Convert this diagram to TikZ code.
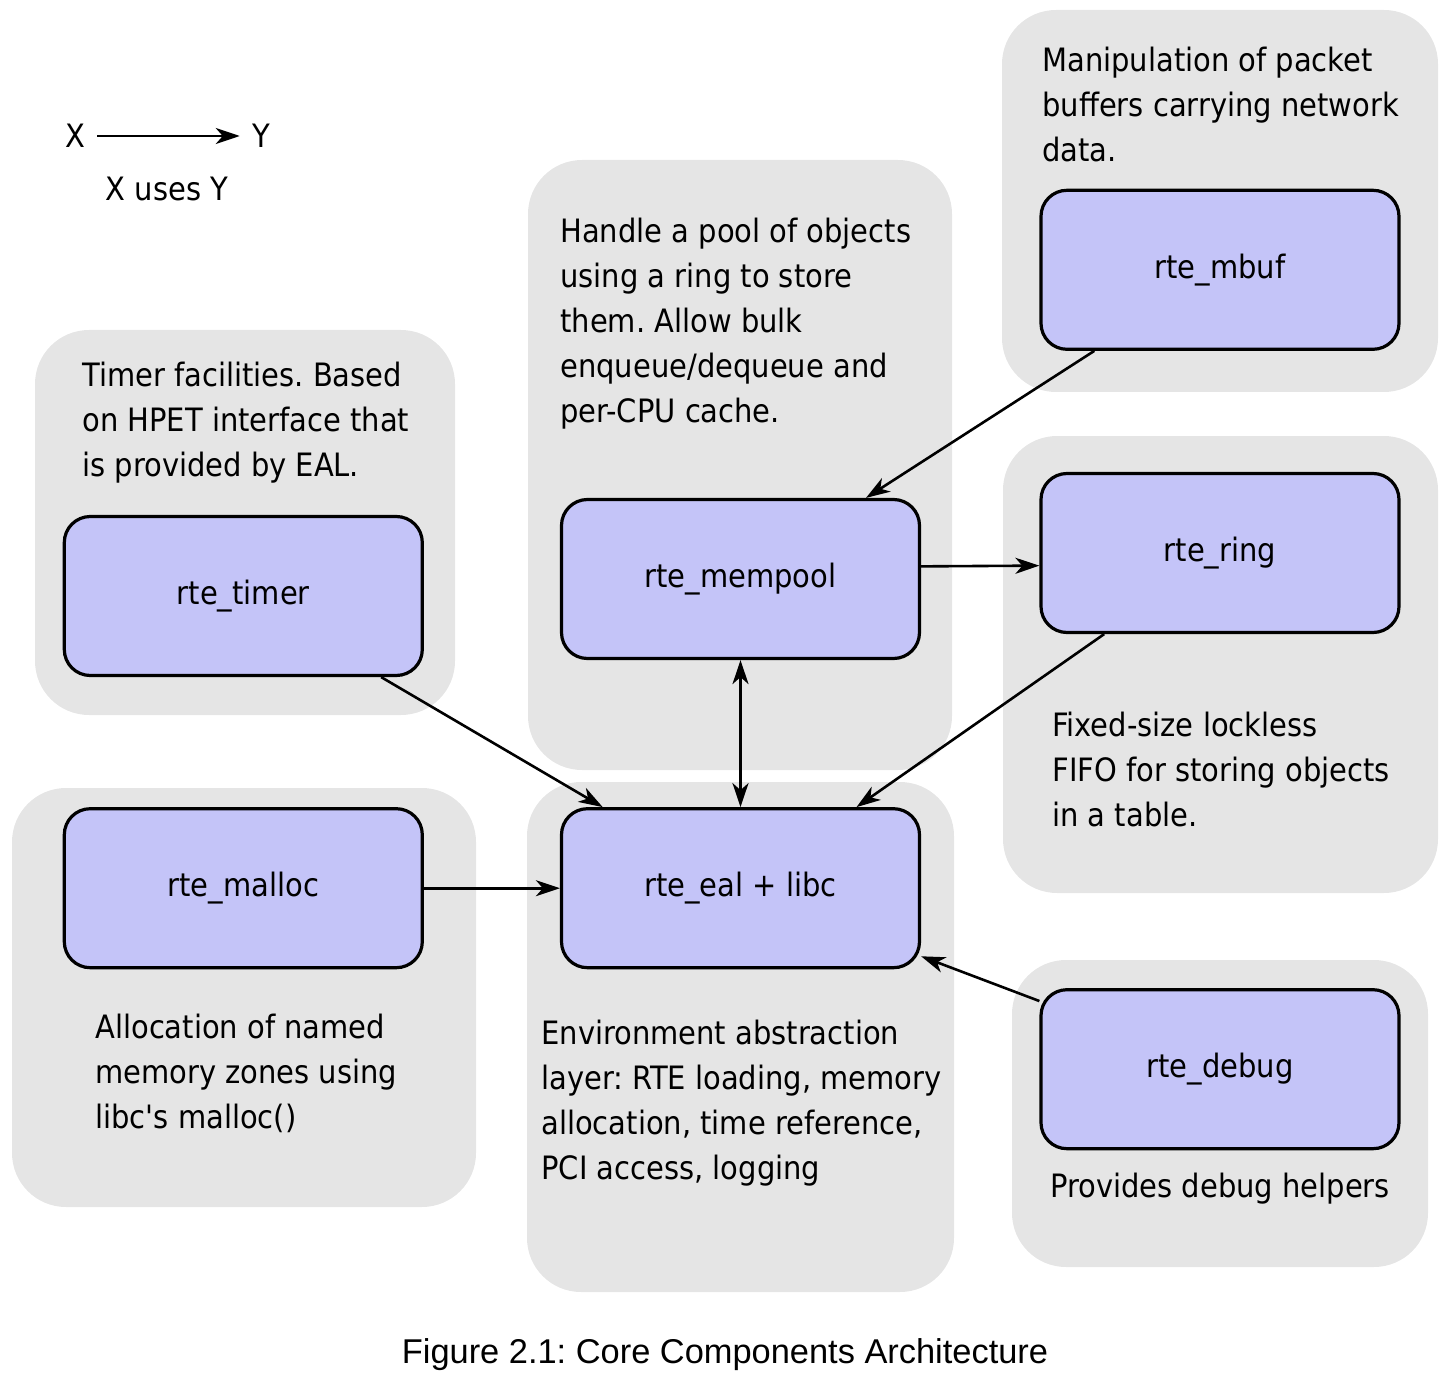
\documentclass[tikz,border=0pt]{standalone}
\usepackage{fontspec}
\setmainfont{DejaVu Sans Condensed}[Ligatures=TeXOff]
\newfontfamily\capfont{Liberation Sans}
\usetikzlibrary{arrows.meta,positioning}
\definecolor{Panel}{HTML}{E5E5E5}
\definecolor{Lilac}{HTML}{C4C4F8}
\tikzset{
 >={Stealth[length=12pt,width=8pt,inset=3.5pt]},
 panel/.style={fill=Panel,rounded corners=27pt},
 comp/.style={draw=black,fill=Lilac,line width=1.6pt,rounded corners=13pt,minimum width=179pt,minimum height=79.5pt},
 note/.style={anchor=north west,align=left,inner sep=0pt},
 legend/.style={inner sep=6pt},
 arr/.style={->,line width=1.3pt},
 darr/.style={arr,<->}
}
\frenchspacing
\begin{document}
\begin{tikzpicture}[x=0.5pt,y=-0.5pt,font=\fontsize{16.1}{22.5}\selectfont]
\useasboundingbox (0,0) rectangle (1452,1380);
% grey panels
\fill[panel] (35,330) rectangle (455,715);
\fill[panel] (528,160) rectangle (952,770);
\fill[panel] (1002,10) rectangle (1438,392);
\fill[panel] (1003,436) rectangle (1438,893);
\fill[panel] (12,788) rectangle (476,1207);
\fill[panel] (527,782) rectangle (954,1292);
\fill[panel] (1012,960) rectangle (1428,1267);
% components
\node[comp] (mempool) at (740.5,579) {rte\_mempool};
\node[comp,below=73.5pt of mempool] (eal) {rte\_eal + libc};
\node[comp,left=68pt of eal] (malloc) {rte\_malloc};
\node[comp,above=65pt of malloc] (timer) {rte\_timer};
\node[comp] (ring) at (1220,553) {rte\_ring};
\node[comp,above=60.5pt of ring] (mbuf) {rte\_mbuf};
\node[comp,below=177pt of ring] (debug) {rte\_debug};
% descriptions
\node[note] (timernote) at (82,362) {Timer facilities. Based\\on HPET interface that\\is provided by EAL.};
\node[note] (mempoolnote) at (560,218) {Handle a pool of objects\\using a ring to store\\them. Allow bulk\\enqueue/dequeue and\\per-CPU cache.};
\node[note] (mbufnote) at (1042,47) {Manipulation of packet\\buffers carrying network\\data.};
\node[note] (ringnote) at (1052,712) {Fixed-size lockless\\FIFO for storing objects\\in a table.};
\node[note] (mallocnote) at (95,1014) {Allocation of named\\memory zones using\\libc's malloc()};
\node[note] (ealnote) at (541,1020) {Environment abstraction\\layer: RTE loading, memory\\allocation, time reference,\\PCI access, logging};
\node[note] (debugnote) at (1050,1173) {Provides debug helpers};
% legend
\node[legend] (x) at (75,136) {X};
\node[legend] (y) at (261,136) {Y};
\node (xusesy) at (167,189) {X uses Y};
\draw[arr] (x)--(y);
% caption
\node[font=\capfont\fontsize{17.2}{20}\selectfont] (caption) at (725,1355) {Figure 2.1: Core Components Architecture};
% uses
\foreach \a/\b in {mbuf/mempool,ring/eal,timer/eal,malloc/eal,debug/eal} \draw[arr] (\a)--(\b);
\draw[arr] (mempool.4)--(ring.184);
\draw[darr] (mempool)--(eal);
\end{tikzpicture}
\end{document}
